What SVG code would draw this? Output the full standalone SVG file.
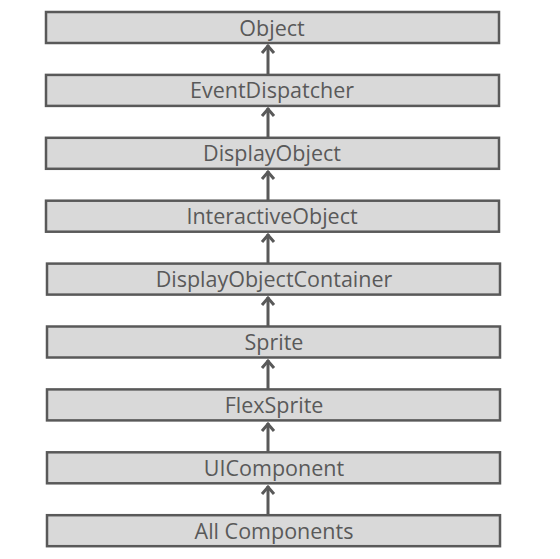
<svg xmlns="http://www.w3.org/2000/svg" width="560" height="559" viewBox="0 0 560 559">
<style>
.box{fill:#d9d9d9;stroke:#595959;stroke-width:2.5}
.lbl{font-family:"Open Sans","Liberation Sans",sans-serif;font-size:21.5px;fill:#595959;text-anchor:middle;dominant-baseline:central}
.con{stroke:#595959;stroke-width:3;fill:none}
.head{stroke:#595959;stroke-width:3;fill:none;stroke-linecap:butt;stroke-linejoin:miter}
</style>
<rect width="560" height="559" fill="#ffffff"/>
<g id="connectors">
<g><line class="con" x1="268" y1="74.9" x2="268" y2="45"/><polyline class="head" points="262,53 268,46 274,53"/></g>
<g><line class="con" x1="268" y1="137.8" x2="268" y2="108"/><polyline class="head" points="262,116 268,109 274,116"/></g>
<g><line class="con" x1="268" y1="200.7" x2="268" y2="171"/><polyline class="head" points="262,179 268,172 274,179"/></g>
<g><line class="con" x1="268" y1="263.6" x2="268" y2="234"/><polyline class="head" points="262,242 268,235 274,242"/></g>
<g><line class="con" x1="268" y1="326.5" x2="268" y2="297"/><polyline class="head" points="262,305 268,298 274,305"/></g>
<g><line class="con" x1="268" y1="389.4" x2="268" y2="360"/><polyline class="head" points="262,368 268,361 274,368"/></g>
<g><line class="con" x1="268" y1="452.3" x2="268" y2="423"/><polyline class="head" points="262,431 268,424 274,431"/></g>
<g><line class="con" x1="268" y1="515.2" x2="268" y2="486"/><polyline class="head" points="262,494 268,487 274,494"/></g>
</g>
<g id="n-object"><rect class="box" x="46" y="12" width="453" height="31"/><text class="lbl" x="272" y="27">Object</text></g>
<g id="n-eventdispatcher"><rect class="box" x="46" y="74.9" width="453" height="31"/><text class="lbl" x="272" y="89.9">EventDispatcher</text></g>
<g id="n-displayobject"><rect class="box" x="46" y="137.8" width="453" height="31"/><text class="lbl" x="272" y="152.8">DisplayObject</text></g>
<g id="n-interactiveobject"><rect class="box" x="46" y="200.7" width="453" height="31"/><text class="lbl" x="272" y="215.7">InteractiveObject</text></g>
<g id="n-displayobjectcontainer"><rect class="box" x="47" y="263.6" width="453" height="31"/><text class="lbl" x="274" y="278.6">DisplayObjectContainer</text></g>
<g id="n-sprite"><rect class="box" x="47" y="326.5" width="453" height="31"/><text class="lbl" x="274" y="341.5">Sprite</text></g>
<g id="n-flexsprite"><rect class="box" x="47" y="389.4" width="453" height="31"/><text class="lbl" x="274" y="404.4">FlexSprite</text></g>
<g id="n-uicomponent"><rect class="box" x="47" y="452.3" width="453" height="31"/><text class="lbl" x="274" y="467.3">UIComponent</text></g>
<g id="n-allcomponents"><rect class="box" x="47" y="515.2" width="453" height="31"/><text class="lbl" x="274" y="530.2">All Components</text></g>
</svg>
